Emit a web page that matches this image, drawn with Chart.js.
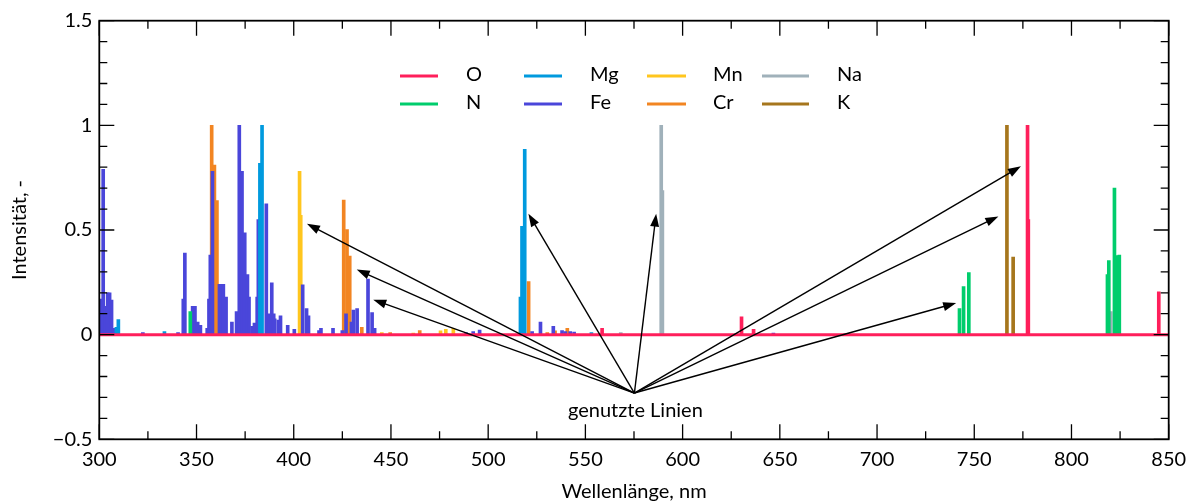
<!DOCTYPE html>
<html>
<head>
<meta charset="utf-8">
<script src="https://cdn.jsdelivr.net/npm/chart.js@4.4.1/dist/chart.umd.min.js"></script>
<style>
  html, body { margin: 0; padding: 0; background: #fff; }
  canvas { display: block; }
</style>
</head>
<body>
<canvas id="chart-spectrum" width="1188" height="502" style="width:1188px;height:502px"></canvas>
<script>
// stick spectra: wavelength (nm) and relative intensity
const O_NM = [558.6, 630.3, 636.5, 777.4, 777.8, 844.9];
const O_INT = [0.03, 0.085, 0.025, 1.0, 0.55, 0.205];

const N_NM = [346.8, 742.4, 744.5, 747.2, 818.5, 819.2, 822.1, 823.2, 824.6];
const N_INT = [0.11, 0.124, 0.23, 0.296, 0.287, 0.354, 0.70, 0.378, 0.38];

const MG_NM = [308.8, 309.8, 333.5, 382.6, 383.7, 516.6, 517.4, 518.8, 553.1];
const MG_INT = [0.035, 0.072, 0.015, 0.818, 1.0, 0.18, 0.518, 0.885, 0.01];

const FE_NM = [300.6, 302.0, 303.3, 304.3, 305.3, 306.3, 307.3, 322.4, 340.5, 343.2, 344.0,
  348.0, 349.2, 350.6, 352.0, 355.5, 356.4, 357.1, 358.2, 361.8, 362.8, 363.8, 365.2, 368.2,
  370.6, 372.0, 373.4, 374.8, 376.2, 377.0, 378.6, 379.8, 381.2, 381.8, 385.9, 387.4, 388.7,
  389.7, 390.2, 392.1, 393.2, 396.9, 400.3, 404.6, 406.6, 407.6, 413.0, 414.0, 420.2, 425.0,
  426.9, 429.7, 430.7, 432.6, 438.2, 440.3, 441.6, 488.6, 492.3, 495.6, 522.6, 526.9, 533.5,
  538.0, 539.7, 542.2, 544.2, 646.7];
const FE_INT = [0.17, 0.79, 0.135, 0.20, 0.20, 0.165, 0.03, 0.01, 0.01, 0.17, 0.39,
  0.135, 0.135, 0.06, 0.045, 0.03, 0.17, 0.38, 0.78, 0.24, 0.24, 0.24, 0.18, 0.06,
  0.11, 1.0, 0.78, 0.487, 0.287, 0.18, 0.04, 0.055, 0.18, 0.55, 0.625, 0.1, 0.247,
  0.1, 0.075, 0.07, 0.09, 0.045, 0.025, 0.238, 0.124, 0.09, 0.02, 0.03, 0.03, 0.02,
  0.1, 0.06, 0.117, 0.125, 0.266, 0.105, 0.03, 0.01, 0.015, 0.022, 0.015, 0.06, 0.04,
  0.02, 0.015, 0.015, 0.012, 0.008];

const MN_NM = [403.0, 403.6, 445.3, 461.5, 475.5, 478.2, 482.1];
const MN_INT = [0.78, 0.57, 0.01, 0.008, 0.018, 0.025, 0.03];

const CR_NM = [357.8, 359.2, 360.5, 425.7, 427.4, 428.8, 435.0, 449.6, 464.8, 520.8, 530.4, 534.4, 540.7];
const CR_INT = [1.0, 0.81, 0.64, 0.643, 0.502, 0.375, 0.035, 0.01, 0.02, 0.254, 0.01, 0.018, 0.03];

const NA_NM = [568.2, 589.0, 589.6, 820.2];
const NA_INT = [0.01, 1.0, 0.688, 0.11];

const K_NM = [766.8, 770.0];
const K_INT = [1.0, 0.371];

const X_RANGE = [300, 850];
const Y_RANGE = [-0.5, 1.5];
const X_MAJOR = 50, X_MINOR = 25;
const Y_MAJOR = 0.5, Y_MINOR = 0.1;

// "genutzte Linien": common origin and the tips of the arrows
const ARROW_FROM = [575.2, -0.279];
const ARROW_TO_NM = [406.8, 432.4, 440.9, 520.7, 586.4, 762.4, 774.0, 740.7];
const ARROW_TO_INT = [0.53, 0.311, 0.167, 0.578, 0.578, 0.565, 0.804, 0.151];
const ARROW_LABEL = 'genutzte Linien';

const X_TITLE = 'Wellenlänge, nm';
const Y_TITLE = 'Intensität, -';

const FONT = 'Lato, "Open Sans", sans-serif';

// legend order is column-major in the picture: O/N, Mg/Fe, Mn/Cr, Na/K
const series = [
  { label: 'O', nm: O_NM, int: O_INT, color: '#ff1f5b' },
  { label: 'N', nm: N_NM, int: N_INT, color: '#00cd6c' },
  { label: 'Mg', nm: MG_NM, int: MG_INT, color: '#009ade' },
  { label: 'Fe', nm: FE_NM, int: FE_INT, color: '#4a46da' },
  { label: 'Mn', nm: MN_NM, int: MN_INT, color: '#ffc61e' },
  { label: 'Cr', nm: CR_NM, int: CR_INT, color: '#f28522' },
  { label: 'Na', nm: NA_NM, int: NA_INT, color: '#a0b1ba' },
  { label: 'K', nm: K_NM, int: K_INT, color: '#a6761d' },
];

const fmtNum = (v) => String(Number(v.toFixed(2))).replace('-', '\u2212');

const frameTicks = {
  id: 'frameTicks',
  afterDatasetsDraw(chart) {
    const { ctx, chartArea: a, scales: { x, y } } = chart;
    ctx.save();
    ctx.strokeStyle = '#000';
    ctx.lineWidth = 1.3;
    ctx.beginPath();
    for (let v = X_RANGE[0]; v <= X_RANGE[1] + 1e-6; v += X_MINOR) {
      const px = x.getPixelForValue(v);
      const len = Math.abs(v % X_MAJOR) < 1e-6 ? 15 : 8;
      ctx.moveTo(px, a.bottom); ctx.lineTo(px, a.bottom - len);
      ctx.moveTo(px, a.top); ctx.lineTo(px, a.top + len);
    }
    const nY = Math.round((Y_RANGE[1] - Y_RANGE[0]) / Y_MINOR);
    const every = Math.round(Y_MAJOR / Y_MINOR);
    for (let i = 0; i <= nY; i++) {
      const py = y.getPixelForValue(Y_RANGE[0] + i * Y_MINOR);
      const len = i % every === 0 ? 15 : 8;
      ctx.moveTo(a.left, py); ctx.lineTo(a.left + len, py);
      ctx.moveTo(a.right, py); ctx.lineTo(a.right - len, py);
    }
    ctx.stroke();
    ctx.lineWidth = 1.8;
    ctx.strokeRect(a.left, a.top, a.right - a.left, a.bottom - a.top);
    ctx.restore();
  },
};

const arrows = {
  id: 'arrows',
  afterDatasetsDraw(chart) {
    const { ctx, scales: { x, y } } = chart;
    const x0 = x.getPixelForValue(ARROW_FROM[0]);
    const y0 = y.getPixelForValue(ARROW_FROM[1]);
    ctx.save();
    ctx.strokeStyle = '#000';
    ctx.fillStyle = '#000';
    ctx.lineWidth = 1.4;
    ARROW_TO_NM.forEach((nm, i) => {
      const x1 = x.getPixelForValue(nm);
      const y1 = y.getPixelForValue(ARROW_TO_INT[i]);
      const ang = Math.atan2(y1 - y0, x1 - x0);
      const head = 13, half = 4.5;
      const bx = x1 - head * Math.cos(ang), by = y1 - head * Math.sin(ang);
      ctx.beginPath();
      ctx.moveTo(x0, y0);
      ctx.lineTo(bx + 2 * Math.cos(ang), by + 2 * Math.sin(ang));
      ctx.stroke();
      ctx.beginPath();
      ctx.moveTo(x1, y1);
      ctx.lineTo(bx + half * Math.sin(ang), by - half * Math.cos(ang));
      ctx.lineTo(bx - half * Math.sin(ang), by + half * Math.cos(ang));
      ctx.closePath();
      ctx.fill();
    });
    ctx.font = `20px ${FONT}`;
    ctx.textAlign = 'center';
    ctx.textBaseline = 'middle';
    ctx.fillText(ARROW_LABEL, x0 + 1, y0 + 18);
    ctx.restore();
  },
};

const legendAndTitles = {
  id: 'legendAndTitles',
  afterDraw(chart) {
    const { ctx, chartArea: a } = chart;
    const colLine = [400, 524, 647, 762];
    const colLen = [38, 38, 39, 47];
    const colText = [466, 590, 713, 837];
    const rowY = [76, 104];
    ctx.save();
    ctx.font = `20px ${FONT}`;
    ctx.textBaseline = 'middle';
    ctx.textAlign = 'left';
    ctx.lineWidth = 3;
    series.forEach((s, i) => {
      const c = Math.floor(i / 2), r = i % 2;
      ctx.strokeStyle = s.color;
      ctx.beginPath();
      ctx.moveTo(colLine[c], rowY[r]);
      ctx.lineTo(colLine[c] + colLen[c], rowY[r]);
      ctx.stroke();
      ctx.fillStyle = '#000';
      ctx.fillText(s.label, colText[c], rowY[r] - 1);
    });
    ctx.textAlign = 'center';
    ctx.fillText(X_TITLE, (a.left + a.right) / 2, 492);
    ctx.translate(20, (a.top + a.bottom) / 2);
    ctx.rotate(-Math.PI / 2);
    ctx.fillText(Y_TITLE, 0, 0);
    ctx.restore();
  },
};

const datasets = [
  {
    type: 'line',
    label: 'O-Basis',
    data: [{ x: X_RANGE[0], y: 0 }, { x: X_RANGE[1], y: 0 }],
    borderColor: series[0].color,
    borderWidth: 3,
    pointRadius: 0,
    order: 0,
  },
  ...series.map((s, i) => ({
    type: 'bar',
    label: s.label,
    data: s.nm.map((nm, k) => ({ x: nm, y: s.int[k] })),
    backgroundColor: s.color,
    borderWidth: 0,
    barThickness: 3,
    grouped: false,
    order: i + 1,
  })),
];

const ctx = document.getElementById('chart-spectrum').getContext('2d');
new Chart(ctx, {
  type: 'bar',
  data: { datasets },
  plugins: [frameTicks, arrows, legendAndTitles],
  options: {
    responsive: false,
    animation: false,
    devicePixelRatio: 1,
    layout: { padding: { top: 20.7, right: 19.3, left: 0, bottom: 0 } },
    plugins: { legend: { display: false }, tooltip: { enabled: false } },
    scales: {
      x: {
        type: 'linear',
        offset: false,
        min: X_RANGE[0],
        max: X_RANGE[1],
        grid: { display: false, drawTicks: false },
        border: { display: false },
        ticks: {
          stepSize: X_MAJOR,
          padding: 8,
          maxRotation: 0,
          color: '#000',
          font: { family: FONT, size: 20 },
          callback: (v) => fmtNum(v),
        },
        afterFit: (scale) => {
          scale.height = 502 - 439.3;
          scale.paddingLeft = 0;
          scale.paddingRight = 0;
        },
      },
      y: {
        type: 'linear',
        min: Y_RANGE[0],
        max: Y_RANGE[1],
        grid: { display: false, drawTicks: false },
        border: { display: false },
        ticks: {
          stepSize: Y_MAJOR,
          padding: 7,
          color: '#000',
          font: { family: FONT, size: 20 },
          callback: (v) => fmtNum(v),
        },
        afterFit: (scale) => {
          scale.width = 99.3;
          scale.paddingTop = 0;
          scale.paddingBottom = 0;
        },
      },
    },
  },
});
</script>
</body>
</html>
